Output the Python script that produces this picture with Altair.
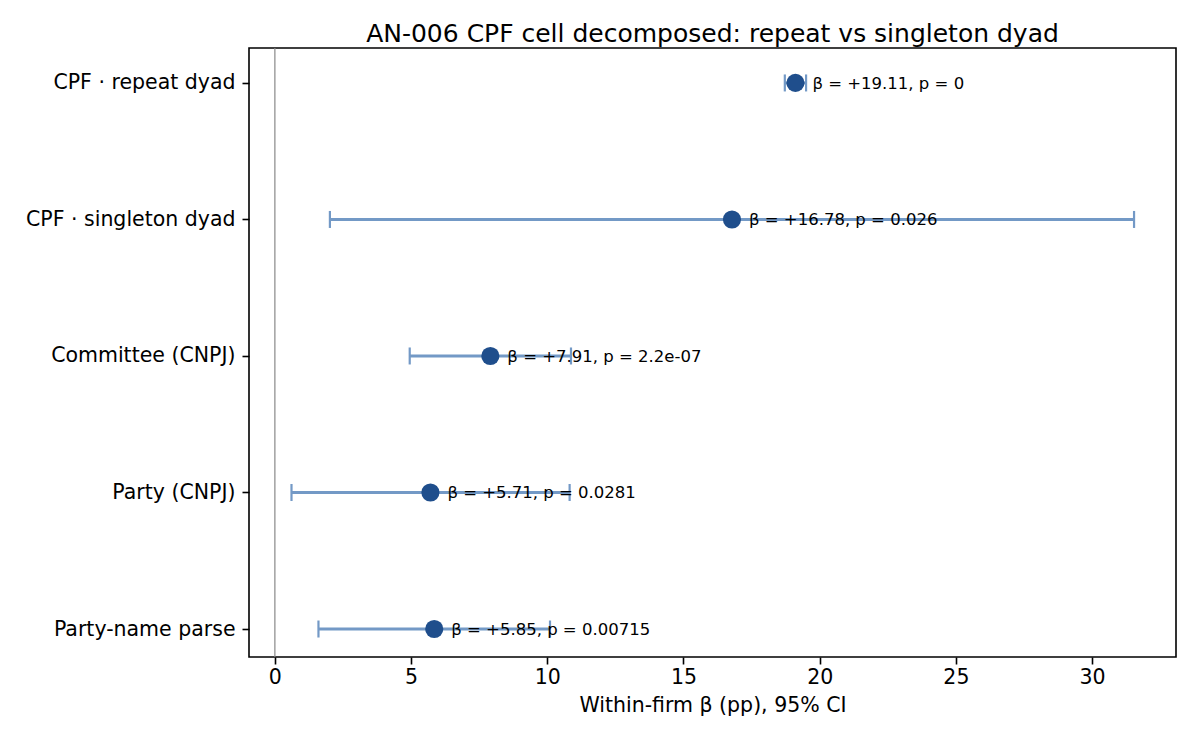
import altair as alt
import pandas as pd

labels = ["CPF · repeat dyad", "CPF · singleton dyad", "Committee (CNPJ)",
          "Party (CNPJ)", "Party-name parse"]
beta = [19.11, 16.78, 7.91, 5.71, 5.85]
ci_lo = [18.72, 2.02, 4.95, 0.61, 1.60]
ci_hi = [19.50, 31.54, 10.87, 10.82, 10.10]
pvals = ["0", "0.026", "2.2e-07", "0.0281", "0.00715"]

n = len(labels)
df = pd.DataFrame({
    "label": labels,
    "pos": [n - 1 - i for i in range(n)],
    "beta": beta,
    "lo": ci_lo,
    "hi": ci_hi,
    "ann": [f"β = +{b:.2f}, p = {p}" for b, p in zip(beta, pvals)],
})

label_expr = " : ".join(
    [f"datum.value == {n - 1 - i} ? '{lab}'" for i, lab in enumerate(labels)]
) + " : ''"

FONT = "DejaVu Sans"
BAR = "#7399c6"
PT = "#1f4e8c"

xscale = alt.Scale(domain=[-0.95, 33.08], nice=False, zero=False)
yscale = alt.Scale(domain=[-0.205, 4.256], nice=False, zero=False)

xax = alt.Axis(values=[0, 5, 10, 15, 20, 25, 30], title="Within-firm β (pp), 95% CI",
               grid=False, domain=False, tickColor="black", tickSize=7, tickWidth=1.6,
               labelPadding=3, labelFontSize=20.5, labelFont=FONT, labelColor="black",
               titleFont=FONT, titleFontSize=20.5, titleFontWeight="normal",
               titleColor="black", titlePadding=8, format="d")
yax = alt.Axis(title=None, grid=False, domain=False, tickColor="black", tickSize=7,
               tickWidth=1.6, labelPadding=7, labelFontSize=20.5, labelFont=FONT,
               labelColor="black", values=list(range(n)), labelExpr=label_expr,
               labelLimit=400)

base = alt.Chart(df)

zero = alt.Chart(pd.DataFrame({"z": [0]})).mark_rule(color="#888888", strokeWidth=1.2).encode(
    x=alt.X("z:Q", scale=xscale, axis=xax)
)

bars = base.mark_rule(color=BAR, strokeWidth=3).encode(
    x=alt.X("lo:Q", scale=xscale, axis=xax),
    x2="hi:Q",
    y=alt.Y("pos:Q", scale=yscale, axis=yax),
)

cap_lo = base.mark_tick(color=BAR, thickness=2.2, size=17, orient="vertical", opacity=1).encode(
    x=alt.X("lo:Q", scale=xscale),
    y=alt.Y("pos:Q", scale=yscale),
)
cap_hi = base.mark_tick(color=BAR, thickness=2.2, size=17, orient="vertical", opacity=1).encode(
    x=alt.X("hi:Q", scale=xscale),
    y=alt.Y("pos:Q", scale=yscale),
)

pts = base.mark_point(filled=True, color=PT, size=330, opacity=1).encode(
    x=alt.X("beta:Q", scale=xscale),
    y=alt.Y("pos:Q", scale=yscale),
)

txt = base.mark_text(align="left", baseline="middle", dx=17, dy=1, fontSize=16.5,
                     font=FONT, color="black").encode(
    x=alt.X("beta:Q", scale=xscale),
    y=alt.Y("pos:Q", scale=yscale),
    text="ann:N",
)

chart = alt.layer(zero, bars, cap_lo, cap_hi, pts, txt).properties(
    width=927,
    height=609,
    title=alt.TitleParams("AN-006 CPF cell decomposed: repeat vs singleton dyad",
                          font=FONT, fontSize=25, fontWeight="normal", color="black",
                          anchor="middle", offset=0),
    autosize=alt.AutoSizeParams(type="none"),
    padding={"left": 249, "top": 48, "right": 24, "bottom": 93},
    view=alt.ViewBackground(stroke="black", strokeWidth=1.6),
).configure_view(stroke="black", strokeWidth=1.6).configure(background="white")

chart.save("out.html", embed_options={"renderer": "svg", "actions": False})
